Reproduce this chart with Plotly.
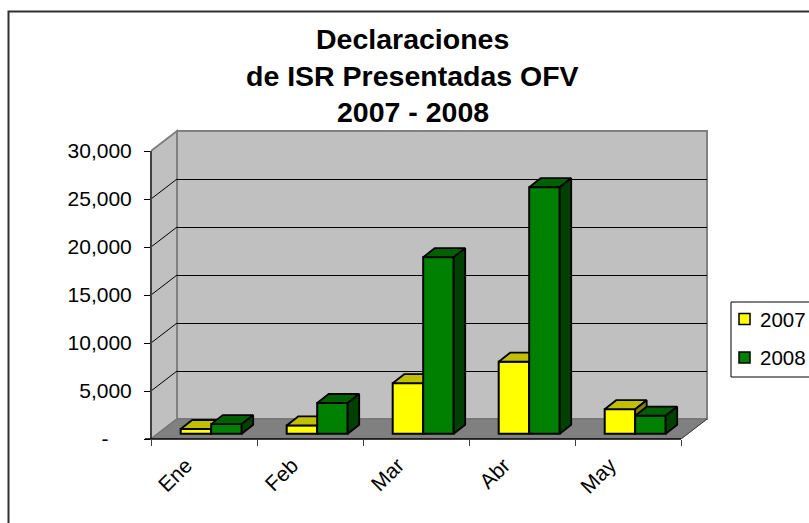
import plotly.graph_objects as go

# ---- data ----
CATEGORIES = ["Ene", "Feb", "Mar", "Abr", "May"]
VALUES_2007 = [490, 860, 5260, 7500, 2550]
VALUES_2008 = [1000, 3200, 18385, 25680, 1875]
SERIES_NAMES = ["2007", "2008"]
Y_TICKS = [0, 5000, 10000, 15000, 20000, 25000, 30000]
Y_TICK_LABELS = ["-\u00a0\u00a0\u00a0\u00a0", "5,000", "10,000", "15,000", "20,000", "25,000", "30,000"]
TITLE_LINES = ["Declaraciones", "de ISR Presentadas OFV", "2007 - 2008"]

# ---- geometry ----
W, H = 809, 523
L, R, T, B = 151, 715, 125, 439      # plot area in pixels
PX_X = 106.0                          # pixels per category
PX_Y = 288.0 / 30000                  # pixels per value unit
XMAX = (R - L) / PX_X
YMAX = (B - T) / PX_Y
WALL_DX, WALL_DY = 26 / PX_X, 20 / PX_Y
BAR_DX, BAR_DY = 11.5 / PX_X, 9 / PX_Y
BAR_BASE = 5.3 / PX_Y
BAR_START = 29.7 / PX_X
BAR_W = 30.5 / PX_X
HALF = 0.5 / PX_Y                     # half a pixel, keeps 1px lines crisp
FONT = "Liberation Sans, Arial, sans-serif"
WALL, FLOOR, EDGE = "#C0C0C0", "#808080", "#808080"
STYLES = [
    dict(front="#FFFF00", top="#C0C000", side="#808000"),
    dict(front="#008000", top="#006000", side="#004000"),
]


def px(x):
    return (x - L) / (R - L)


def py(y):
    return (B - y) / (B - T)


def poly(pts):
    return "M " + " L ".join(f"{a},{b}" for a, b in pts) + " Z"


shapes = []
# chart frame (runs off the right and bottom of the picture)
shapes.append(dict(type="rect", xref="paper", yref="paper", layer="below",
                   x0=px(8.5), x1=px(W + 20), y0=py(11.5), y1=py(H + 20),
                   line=dict(color="#303030", width=2), fillcolor="white"))
# walls and floor
top = 30000
shapes.append(dict(type="path", layer="below", xref="x", yref="y", fillcolor=WALL,
                   path=poly([(WALL_DX, WALL_DY), (5 + WALL_DX, WALL_DY), (5 + WALL_DX, top + WALL_DY),
                              (WALL_DX, top + WALL_DY)]),
                   line=dict(color=EDGE, width=2)))
shapes.append(dict(type="path", layer="below", xref="x", yref="y", fillcolor=WALL,
                   path=poly([(0, 0), (WALL_DX, WALL_DY), (WALL_DX, top + WALL_DY), (0, top)]),
                   line=dict(color=EDGE, width=2)))
shapes.append(dict(type="path", layer="below", xref="x", yref="y", fillcolor=FLOOR,
                   path=poly([(0, 0), (WALL_DX, WALL_DY), (5 + WALL_DX, WALL_DY), (5, 0)]),
                   line=dict(color="#707070", width=1)))
# gridlines on the back and side walls
for v in Y_TICKS[1:-1]:
    shapes.append(dict(type="line", layer="below", xref="x", yref="y",
                       x0=WALL_DX, x1=5 + WALL_DX, y0=v + WALL_DY - HALF, y1=v + WALL_DY - HALF,
                       line=dict(color="black", width=1)))
    shapes.append(dict(type="line", layer="below", xref="x", yref="y",
                       x0=0, x1=WALL_DX, y0=v, y1=v + WALL_DY,
                       line=dict(color="black", width=1)))
shapes.append(dict(type="line", layer="below", xref="x", yref="y",
                   x0=5, x1=5 + WALL_DX, y0=0, y1=WALL_DY,
                   line=dict(color="#404040", width=1)))
# front edges of the box: value axis and category axis lines
shapes.append(dict(type="line", xref="paper", yref="paper", x0=px(L), x1=px(L),
                   y0=py(B), y1=py(B - 288), line=dict(color="#404040", width=2)))
shapes.append(dict(type="line", xref="paper", yref="paper", x0=px(L - 6), x1=px(L + 5 * PX_X),
                   y0=py(B), y1=py(B), line=dict(color="black", width=1.5)))
# legend box
shapes.append(dict(type="rect", xref="paper", yref="paper", x0=px(731), x1=px(W + 20),
                   y0=py(302), y1=py(377), line=dict(color="black", width=1), fillcolor="white"))

fig = go.Figure()

for s, (name, vals, st) in enumerate(zip(SERIES_NAMES, [VALUES_2007, VALUES_2008], STYLES)):
    xa, ya = ("x", "y") if s == 0 else ("x2", "y2")
    lefts = [i + BAR_START + s * BAR_W for i in range(len(vals))]
    fig.add_trace(go.Bar(x=lefts, y=vals, base=BAR_BASE, width=BAR_W, offset=0, name=name,
                         marker=dict(color=st["front"], line=dict(color="black", width=2)),
                         xaxis=xa, yaxis=ya, showlegend=False))
    tx, ty, sx, sy = [], [], [], []
    for l, v in zip(lefts, vals):
        r, t = l + BAR_W, BAR_BASE + v
        tx += [l, l + BAR_DX, r + BAR_DX, r, l, None]
        ty += [t, t + BAR_DY, t + BAR_DY, t, t, None]
        sx += [r, r + BAR_DX, r + BAR_DX, r, r, None]
        sy += [BAR_BASE, BAR_BASE + BAR_DY, t + BAR_DY, t, BAR_BASE, None]
    for X, Y, col in ((tx, ty, st["top"]), (sx, sy, st["side"])):
        fig.add_trace(go.Scatter(x=X, y=Y, mode="lines", fill="toself", fillcolor=col,
                                 line=dict(color="black", width=1.8), xaxis=xa, yaxis=ya,
                                 showlegend=False, hoverinfo="skip"))

    # legend entry
    cy = 319 + 38.5 * s
    shapes.append(dict(type="rect", xref="paper", yref="paper",
                       x0=px(739), x1=px(750), y0=py(cy - 5.5), y1=py(cy + 5.5),
                       fillcolor=st["front"], line=dict(color="black", width=1.5)))

annotations = []
for line, y in zip(TITLE_LINES, [39.5, 76, 112]):
    annotations.append(dict(text=f"<b>{line}</b>", xref="paper", yref="paper", x=px(412.5), y=py(y),
                            xanchor="center", yanchor="middle", showarrow=False,
                            font=dict(family=FONT, size=28.5, color="black")))
for s, name in enumerate(SERIES_NAMES):
    annotations.append(dict(text=name, xref="paper", yref="paper", x=px(758), y=py(319 + 38.5 * s),
                            xanchor="left", yanchor="middle", showarrow=False,
                            font=dict(family=FONT, size=20.5, color="black")))

fig.update_layout(
    width=W, height=H, autosize=False,
    margin=dict(l=L, r=W - R, t=T, b=H - B, pad=0, autoexpand=False),
    paper_bgcolor="white", plot_bgcolor="rgba(0,0,0,0)",
    barmode="overlay", showlegend=False,
    shapes=shapes, annotations=annotations,
    font=dict(family=FONT, color="black"),
    xaxis=dict(range=[0, XMAX], showgrid=False, zeroline=False, showline=False,
               tickmode="array", tickvals=[i + 0.33 for i in range(len(CATEGORIES))],
               ticktext=CATEGORIES, ticks="", tickangle=-45,
               ticklabelstandoff=9, tickfont=dict(family=FONT, size=21),
               minor=dict(tickmode="array", tickvals=list(range(len(CATEGORIES) + 1)),
                          ticks="outside", ticklen=6, tickwidth=1, tickcolor="#404040", showgrid=False)),
    yaxis=dict(range=[0, YMAX], showgrid=False, zeroline=False, showline=False,
               tickmode="array", tickvals=Y_TICKS, ticktext=Y_TICK_LABELS,
               ticks="outside", ticklen=6, tickwidth=1, tickcolor="black",
               ticklabelstandoff=8, tickfont=dict(family=FONT, size=21)),
    xaxis2=dict(range=[0, XMAX], overlaying="x", visible=False),
    yaxis2=dict(range=[0, YMAX], overlaying="y", visible=False),
)

fig.write_html("out.html", config=dict(displayModeBar=False),
               post_script="document.body.style.margin='0';document.body.style.overflow='hidden';")
